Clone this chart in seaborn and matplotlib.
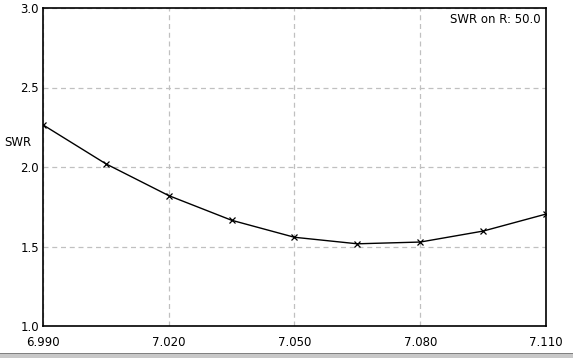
import matplotlib
matplotlib.use("Agg")
import matplotlib.pyplot as plt
import matplotlib.patches as mpatches
import seaborn as sns
import pandas as pd

freq = [6.990, 7.005, 7.020, 7.035, 7.050, 7.065, 7.080, 7.095, 7.110]
swr = [2.265, 2.02, 1.82, 1.665, 1.558, 1.517, 1.528, 1.597, 1.704]
x_ticks = [6.990, 7.020, 7.050, 7.080, 7.110]
y_ticks = [1.0, 1.5, 2.0, 2.5, 3.0]

dados = pd.DataFrame({"freq": freq, "swr": swr})

sns.set_style("white")
plt.rcParams["font.family"] = ["DejaVu Sans"]
plt.rcParams["text.color"] = "black"
plt.rcParams["xtick.color"] = "black"
plt.rcParams["ytick.color"] = "black"

fig = plt.figure(figsize=(5.73, 3.58), dpi=100)
ax = fig.add_axes([43 / 573, 32 / 358, 503 / 573, 318 / 358])

sns.lineplot(data=dados, x="freq", y="swr", ax=ax, color="black", linewidth=1,
             marker="x", markersize=4.5, markeredgewidth=0.9, markeredgecolor="black")

ax.set_xlim(6.990, 7.110)
ax.set_ylim(1.0, 3.0)
ax.set_xticks(x_ticks)
ax.set_xticklabels([f"{v:.3f}" for v in x_ticks])
ax.set_yticks(y_ticks)
ax.set_yticklabels([f"{v:.1f}" for v in y_ticks])
ax.tick_params(axis="x", length=0, labelsize=8.5, pad=7, labelcolor="black")
ax.tick_params(axis="y", length=0, labelsize=8.5, pad=3, labelcolor="black")
ax.grid(True, color="#c0c0c0", linestyle=(0, (4, 3)), linewidth=0.9)
for s in ax.spines.values():
    s.set_color("black")
    s.set_linewidth(1.2)

ax.set_xlabel("")
ax.set_ylabel("")
fig.text(4 / 573, 1 - 143 / 358, "SWR", fontsize=8.5, va="center", ha="left", color="black")
ax.text(0.99, 0.985, "SWR on R: 50.0", transform=ax.transAxes, fontsize=8.5,
        ha="right", va="top", color="black")

# barra cinza no rodape
fig.patches.append(mpatches.Rectangle((0, 0), 1, 4 / 358, transform=fig.transFigure,
                                      facecolor="#c8c8c8", edgecolor="none"))
fig.patches.append(mpatches.Rectangle((0, 4 / 358), 1, 1 / 358, transform=fig.transFigure,
                                      facecolor="#808080", edgecolor="none"))

plt.savefig("out.png", dpi=100)
